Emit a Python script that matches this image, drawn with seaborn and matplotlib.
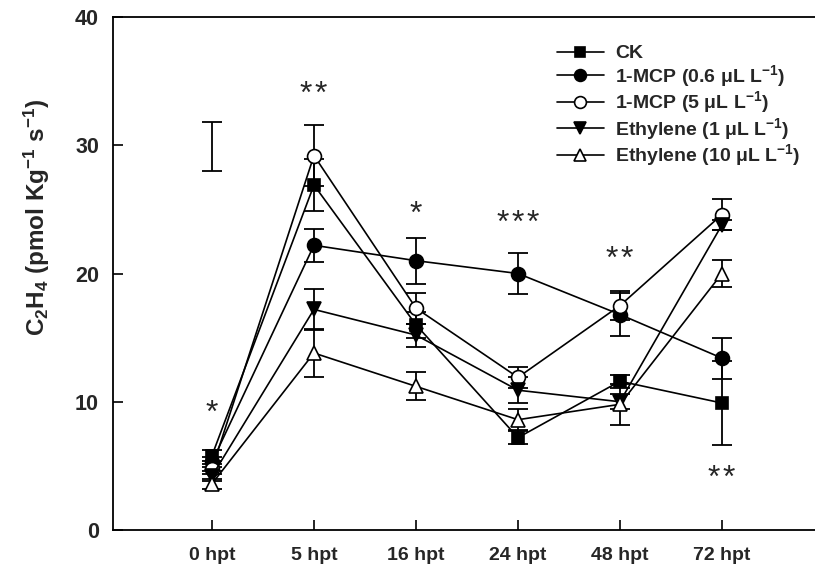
import numpy as np
import pandas as pd
import seaborn as sns
import matplotlib
matplotlib.use("Agg")
import matplotlib.pyplot as plt

# Sampling times
times = ["0 hpt", "5 hpt", "16 hpt", "24 hpt", "48 hpt", "72 hpt"]

# Ethylene production (pmol Kg-1 s-1), means and standard errors
ck = [5.8, 26.9, 16.0, 7.2, 11.6, 9.9]
ck_err = [0.4, 2.0, 1.0, 0.5, 0.5, 3.3]
mcp06 = [5.3, 22.2, 21.0, 20.0, 16.8, 13.4]
mcp06_err = [0.4, 1.3, 1.8, 1.6, 1.7, 1.6]
mcp5 = [4.75, 29.2, 17.3, 11.9, 17.5, 24.6]
mcp5_err = [0.4, 2.4, 1.2, 0.8, 1.1, 1.2]
eth1 = [4.2, 17.2, 15.2, 10.9, 10.0, 23.8]
eth1_err = [0.4, 1.6, 0.9, 1.0, 0.6, 0.4]
eth10 = [3.6, 13.8, 11.2, 8.6, 9.8, 20.0]
eth10_err = [0.4, 1.9, 1.1, 0.8, 1.6, 1.05]

# LSD reference bar
lsd_center = 29.9
lsd_half = 1.9

# Significance marks per time point
stars = ["*", "*\u200a*", "*", "*\u200a*\u200a*", "*\u200a*", "*\u200a*"]
star_y = [9.05, 33.95, 24.55, 23.85, 21.05, 3.95]

labels = [
    "CK",
    "1-MCP (0.6 μL L$^{-1}$)",
    "1-MCP (5 μL L$^{-1}$)",
    "Ethylene (1 μL L$^{-1}$)",
    "Ethylene (10 μL L$^{-1}$)",
]
series = [ck, mcp06, mcp5, eth1, eth10]
errors = [ck_err, mcp06_err, mcp5_err, eth1_err, eth10_err]
markers = ["s", "o", "o", "v", "^"]
faces = ["black", "black", "white", "black", "white"]

sns.set_theme(style="white")
plt.rcParams["font.family"] = ["Liberation Sans", "DejaVu Sans"]
plt.rcParams["mathtext.fontset"] = "custom"
plt.rcParams["mathtext.rm"] = "Liberation Sans:bold"
plt.rcParams["mathtext.bf"] = "Liberation Sans:bold"
plt.rcParams["mathtext.default"] = "bf"

fig = plt.figure(figsize=(8.15, 5.77), dpi=100)
ax = fig.add_axes([113 / 815, 47 / 577, 711 / 815, 513 / 577])

xpos = np.arange(len(times))
for lab, vals, errs, m, fc in zip(labels, series, errors, markers, faces):
    df = pd.DataFrame({"x": xpos, "y": vals})
    ax.errorbar(xpos, vals, yerr=errs, fmt="none", ecolor="black",
                elinewidth=1.3, capsize=7.5, capthick=1.3, zorder=2)
    sns.lineplot(data=df, x="x", y="y", ax=ax, color="black", lw=1.2,
                 marker=m, markersize=10 if m != "s" else 9,
                 markerfacecolor=fc, markeredgecolor="black",
                 markeredgewidth=1.2, label=lab, zorder=3)

ax.errorbar([0], [lsd_center], yerr=[lsd_half], fmt="none", ecolor="black",
            elinewidth=1.3, capsize=7.5, capthick=1.3)

for xi, s, yy in zip(xpos, stars, star_y):
    ax.text(xi, yy, s, ha="center", va="center", fontsize=23,
            fontfamily=["Liberation Sans", "DejaVu Sans"])

ax.set_xlim(-0.97, 6.0)
ax.set_ylim(0, 40)
ax.set_xticks(xpos)
ax.set_xticklabels(times)
ax.set_yticks([0, 10, 20, 30, 40])
ax.set_xlabel("")
ax.set_ylabel("C$_2$H$_4$ (pmol Kg$^{-1}$ s$^{-1}$)", fontsize=17.5,
              fontweight="bold")
ax.yaxis.set_label_coords(-0.086, 0.61)
for t in ax.get_xticklabels():
    t.set_fontweight("bold")
    t.set_fontsize(14)
for t in ax.get_yticklabels():
    t.set_fontweight("bold")
    t.set_fontsize(15.5)
ax.tick_params(axis="both", direction="in", length=7, width=1.2,
               color="black", left=True, bottom=True)
ax.tick_params(axis="x", pad=12)
ax.tick_params(axis="y", pad=10)
for sp in ax.spines.values():
    sp.set_color("black")
    sp.set_linewidth(1.3)

leg = ax.legend(loc="upper left", bbox_to_anchor=(0.6, 0.98), frameon=False,
                handlelength=2.4, handletextpad=0.6, labelspacing=0.03,
                markerscale=0.85,
                prop={"family": "Liberation Sans", "weight": "bold", "size": 14})

fig.savefig("out.png", dpi=100)
